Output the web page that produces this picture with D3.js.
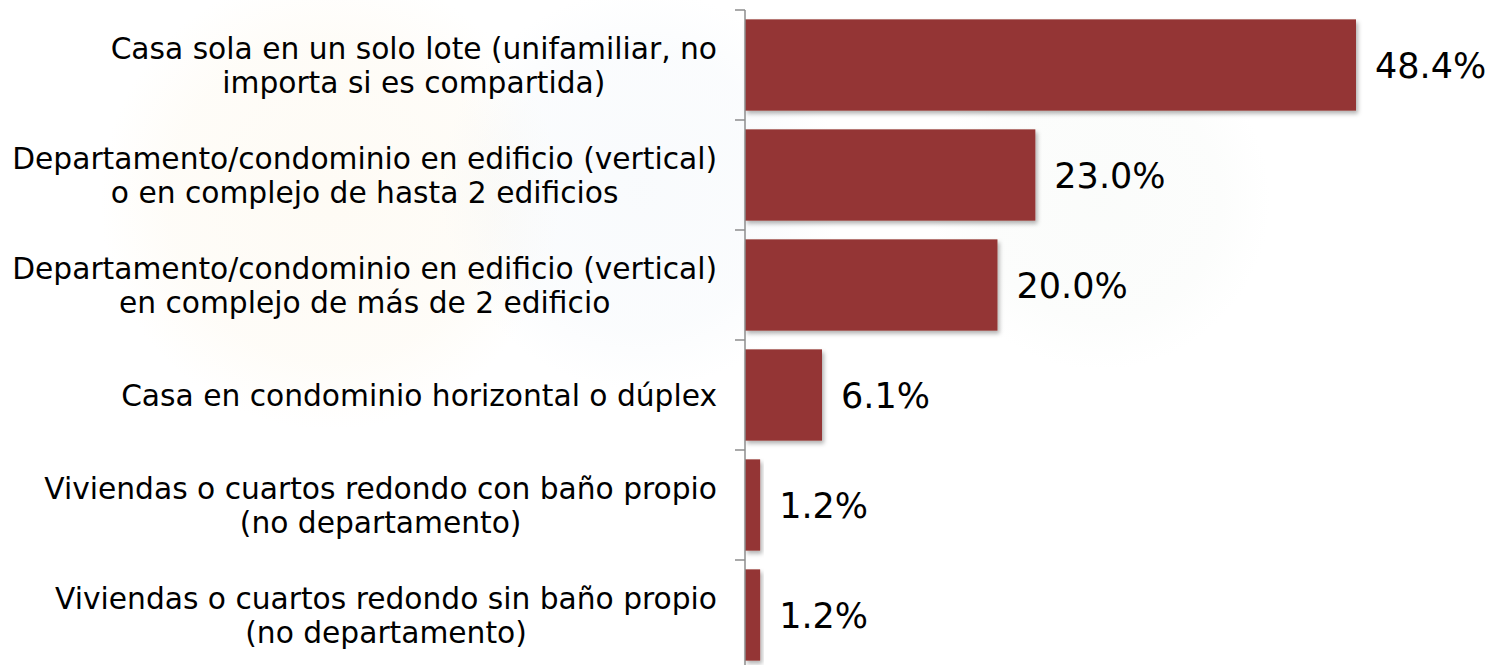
<!DOCTYPE html>
<html>
<head>
<meta charset="utf-8">
<script src="https://cdn.jsdelivr.net/npm/d3@7"></script>
<style>
  body { margin: 0; background: #fff; }
  svg { display: block; }
  text { font-family: "DejaVu Sans", Verdana, sans-serif; fill: #000; }
</style>
</head>
<body>
<svg id="chart" width="1494" height="665"></svg>
<script>
// data
var categories = [
  ["Casa sola en un solo lote (unifamiliar, no", "importa si es compartida)"],
  ["Departamento/condominio en edificio (vertical)", "o en complejo de hasta 2 edificios"],
  ["Departamento/condominio en edificio (vertical)", "en complejo de más de 2 edificio"],
  ["Casa en condominio horizontal o dúplex"],
  ["Viviendas o cuartos redondo con baño propio", "(no departamento)"],
  ["Viviendas o cuartos redondo sin baño propio", "(no departamento)"]
];
var values = [48.4, 23.0, 20.0, 6.1, 1.2, 1.2];
var valueLabels = ["48.4%", "23.0%", "20.0%", "6.1%", "1.2%", "1.2%"];

var svg = d3.select("svg#chart");
var width = 1494, height = 665;

var axisX = 745;
var labelRight = 717;

// faint watermark behind the chart
var defs = svg.append("defs");
function glow(id, color){
  var g = defs.append("radialGradient").attr("id", id);
  g.append("stop").attr("offset", "0%").attr("stop-color", color).attr("stop-opacity", 0.25);
  g.append("stop").attr("offset", "70%").attr("stop-color", color).attr("stop-opacity", 0.18);
  g.append("stop").attr("offset", "100%").attr("stop-color", color).attr("stop-opacity", 0);
}
glow("wmYellow", "#fbefd6");
glow("wmBlue", "#e6eef6");
glow("wmGreen", "#eef3ee");

var wm = svg.append("g").attr("class", "watermark");
wm.append("circle").attr("cx", 330).attr("cy", 200).attr("r", 230).attr("fill", "url(#wmYellow)");
wm.append("circle").attr("cx", 640).attr("cy", 190).attr("r", 200).attr("fill", "url(#wmBlue)");
wm.append("circle").attr("cx", 1100).attr("cy", 200).attr("r", 170).attr("fill", "url(#wmGreen)");

var shadow = defs.append("filter").attr("id", "barShadow")
  .attr("x", "-10%").attr("y", "-10%").attr("width", "130%").attr("height", "130%");
shadow.append("feDropShadow")
  .attr("dx", 2).attr("dy", 3)
  .attr("stdDeviation", 2)
  .attr("flood-color", "#000")
  .attr("flood-opacity", 0.3);

var idx = d3.range(values.length);

var y = d3.scaleBand()
  .domain(idx)
  .range([10, 670])
  .paddingInner(0.17)
  .paddingOuter(0.085);

var x = d3.scaleLinear()
  .domain([0, 48.4])
  .range([axisX, 1356]);

// bars
svg.selectAll("rect.bar")
  .data(idx)
  .enter().append("rect")
  .attr("class", "bar")
  .attr("x", x(0))
  .attr("y", d => y(d))
  .attr("width", d => x(values[d]) - x(0))
  .attr("height", y.bandwidth())
  .attr("fill", "#943634")
  .attr("filter", "url(#barShadow)");

// axis line and ticks at band boundaries
var step = y.step();
var tickYs = idx.map(d => 10 + d * step);

svg.append("line")
  .attr("x1", axisX).attr("x2", axisX)
  .attr("y1", 10).attr("y2", height)
  .attr("stroke", "#8c8c8c")
  .attr("stroke-width", 1.5);

svg.selectAll("line.tick")
  .data(tickYs)
  .enter().append("line")
  .attr("class", "tick")
  .attr("x1", axisX - 10).attr("x2", axisX)
  .attr("y1", d => d).attr("y2", d => d)
  .attr("stroke", "#8c8c8c")
  .attr("stroke-width", 1.5);

// value labels
svg.selectAll("text.value")
  .data(idx)
  .enter().append("text")
  .attr("class", "value")
  .attr("x", d => x(values[d]) + 19)
  .attr("y", d => y(d) + y.bandwidth() / 2)
  .attr("dy", "0.36em")
  .style("font-size", "35px")
  .text(d => valueLabels[d]);

// category labels, lines centred within a right aligned block
var lineH = 34;
var catFont = 29.7;
idx.forEach(function(d){
  var lines = categories[d];
  var g = svg.append("g").attr("class", "cat");
  var texts = lines.map(function(t, i){
    return g.append("text")
      .attr("y", y(d) + y.bandwidth() / 2 + (i - (lines.length - 1) / 2) * lineH)
      .attr("dy", "0.36em")
      .attr("text-anchor", "middle")
      .style("font-size", catFont + "px")
      .text(t);
  });
  var maxW = d3.max(texts, t => t.node().getComputedTextLength());
  texts.forEach(t => t.attr("x", labelRight - maxW / 2));
});
</script>
</body>
</html>
